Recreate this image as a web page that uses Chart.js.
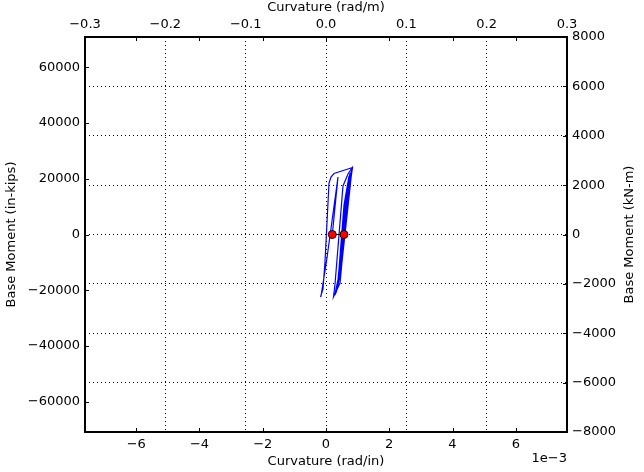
<!DOCTYPE html>
<html><head><meta charset="utf-8">
<script src="https://cdn.jsdelivr.net/npm/chart.js@4.4.0/dist/chart.umd.min.js"></script>
<style>html,body{margin:0;padding:0;background:#fff;} canvas{display:block;}</style>
</head><body>
<canvas id="c" width="644" height="472"></canvas>
<script>
// Hysteresis path: curvature (rad/in) and base moment (in-kips)
const curvatureRadPerIn = [
  0.000199, 0.000379, 0.000022, -0.000158, -0.000174, -0.000095, -0.000032, 0.000095, 0.000158, 0.000253,
  0.000838, 0.000759, 0.000506, 0.000443, 0.000237, 0.000285, 0.000537, 0.000696, 0.000822, 0.000727,
  0.000443, 0.000285, 0.000379, 0.000632, 0.000759, 0.000696, 0.000474, 0.000316, 0.000411, 0.000664,
  0.000822, 0.000759, 0.000506, 0.000348, 0.000443, 0.000696, 0.000790, 0.000727, 0.000474, 0.000285,
  0.000379, 0.000569, 0.000727, 0.000664, 0.000443, 0.000316, 0.000411, 0.000632, 0.000759, 0.000696,
  0.000569
];
const momentInKips = [
  0, 20610, -9140, -22050, -22405, -19540, -9860, 18460, 20610, 21870,
  24020, 17745, -9860, -17390, -22405, -17745, 17390, 21690, 23840, 15950,
  -12725, -21330, -16310, 14160, 22050, 14160, -10935, -20615, -15595, 15950,
  23480, 16670, -9860, -19900, -14520, 17390, 22405, 15235, -12010, -21690,
  -17030, 10575, 20970, 13085, -13445, -20970, -16310, 12370, 21690, 13800,
  0
];
// Start / end markers
const markerCurvature = [0.000199, 0.000569];
const markerMoment = [0, 0];

// Tick values
const bottomTicks = [-0.006, -0.004, -0.002, 0, 0.002, 0.004, 0.006];
const topTicks = [-0.3, -0.2, -0.1, 0, 0.1, 0.2, 0.3];
const leftTicks = [-60000, -40000, -20000, 0, 20000, 40000, 60000];
const rightTicks = [-8000, -6000, -4000, -2000, 0, 2000, 4000, 6000, 8000];

// Axis limits
const curvatureLimitRadPerM = 0.3;
const momentLimitKNm = 8000;
const IN_PER_M = 39.3701;
const INKIP_PER_KNM = 8.85075;
const curvatureLimitRadPerIn = curvatureLimitRadPerM / IN_PER_M;
const momentLimitInKips = momentLimitKNm * INKIP_PER_KNM;

const FONT = {family: 'DejaVu Sans', size: 13};
const minus = s => s.replace(/-/g, '\u2212');
const toTicks = arr => arr.map(v => ({value: v}));

const pathData = curvatureRadPerIn.map((x, i) => ({x, y: momentInKips[i]}));
const markerData = markerCurvature.map((x, i) => ({x, y: markerMoment[i]}));

const framePlugin = {
  id: 'frame',
  afterDraw(chart) {
    const {ctx, chartArea: a, scales} = chart;
    ctx.save();
    ctx.strokeStyle = '#000';
    ctx.lineWidth = 1;
    ctx.beginPath();
    const tl = 4;
    scales.x.ticks.forEach(t => {
      const p = Math.round(scales.x.getPixelForValue(t.value)) + 0.5;
      ctx.moveTo(p, a.bottom); ctx.lineTo(p, a.bottom - tl);
      ctx.moveTo(p, a.top); ctx.lineTo(p, a.top + tl);
    });
    scales.y.ticks.forEach(t => {
      const p = Math.round(scales.y.getPixelForValue(t.value)) + 0.5;
      ctx.moveTo(a.left, p); ctx.lineTo(a.left + tl, p);
    });
    scales.y2.ticks.forEach(t => {
      const p = Math.round(scales.y2.getPixelForValue(t.value)) + 0.5;
      ctx.moveTo(a.right, p); ctx.lineTo(a.right - tl, p);
    });
    ctx.stroke();
    ctx.lineWidth = 2;
    ctx.strokeRect(a.left, a.top, a.right - a.left, a.bottom - a.top);
    ctx.fillStyle = '#000';
    ctx.font = '13px "DejaVu Sans"';
    ctx.textAlign = 'right';
    ctx.textBaseline = 'middle';
    ctx.fillText('1e\u22123', a.right, 459);
    ctx.translate(630, (a.top + a.bottom) / 2);
    ctx.rotate(-Math.PI / 2);
    ctx.textAlign = 'center';
    ctx.fillText('Base Moment (kN-m)', 0, 0);
    ctx.restore();
  }
};

new Chart(document.getElementById('c'), {
  type: 'scatter',
  data: {
    datasets: [
      {data: pathData, showLine: true, borderColor: '#0000ff', borderWidth: 1.2, pointRadius: 0, tension: 0, xAxisID: 'x', yAxisID: 'y', order: 2},
      {data: markerData, showLine: true, borderColor: '#000', borderWidth: 1, pointRadius: 4, pointBackgroundColor: '#ff0000', pointBorderColor: '#000', pointBorderWidth: 1, xAxisID: 'x', yAxisID: 'y', order: 1}
    ]
  },
  options: {
    responsive: false, animation: false, devicePixelRatio: 1,
    layout: {padding: 0},
    plugins: {legend: {display: false}, tooltip: {enabled: false}},
    scales: {
      x: {
        type: 'linear', position: 'bottom', min: -curvatureLimitRadPerIn, max: curvatureLimitRadPerIn,
        afterBuildTicks: s => { s.ticks = toTicks(bottomTicks); },
        grid: {display: false, drawTicks: false}, border: {display: false},
        ticks: {autoSkip: false, maxRotation: 0, padding: 5, color: '#000', font: FONT,
          callback: v => minus(String(Math.round(v * 1000)))},
        title: {display: true, text: 'Curvature (rad/in)', color: '#000', font: FONT, padding: {top: 0, bottom: 3}},
        afterFit: s => { s.height = 40; }
      },
      x2: {
        type: 'linear', axis: 'x', position: 'top', min: -curvatureLimitRadPerM, max: curvatureLimitRadPerM,
        afterBuildTicks: s => { s.ticks = toTicks(topTicks); },
        grid: {display: true, drawTicks: false, color: '#000', lineWidth: 1}, border: {display: false, dash: [1, 3]},
        ticks: {autoSkip: false, maxRotation: 0, padding: 5, color: '#000', font: FONT,
          callback: v => minus((Math.abs(v) < 1e-9 ? 0 : v).toFixed(1))},
        title: {display: true, text: 'Curvature (rad/m)', color: '#000', font: FONT, padding: {top: 0, bottom: 0}},
        afterFit: s => { s.height = 37; }
      },
      y: {
        type: 'linear', position: 'left', min: -momentLimitInKips, max: momentLimitInKips,
        afterBuildTicks: s => { s.ticks = toTicks(leftTicks); },
        grid: {display: false, drawTicks: false}, border: {display: false},
        ticks: {autoSkip: false, padding: 5, color: '#000', font: FONT,
          callback: v => minus(String(Math.round(v)))},
        title: {display: true, text: 'Base Moment (in-kips)', color: '#000', font: FONT, padding: {top: 4, bottom: 0}},
        afterFit: s => { s.width = 85; }
      },
      y2: {
        type: 'linear', axis: 'y', position: 'right', min: -momentLimitKNm, max: momentLimitKNm,
        afterBuildTicks: s => { s.ticks = toTicks(rightTicks); },
        grid: {display: true, drawTicks: false, color: '#000', lineWidth: 1}, border: {display: false, dash: [1, 3]},
        ticks: {autoSkip: false, padding: 5, color: '#000', font: FONT,
          callback: v => minus(String(Math.round(v)))},
        afterFit: s => { s.width = 77; }
      }
    }
  },
  plugins: [framePlugin]
});
</script>
</body></html>
